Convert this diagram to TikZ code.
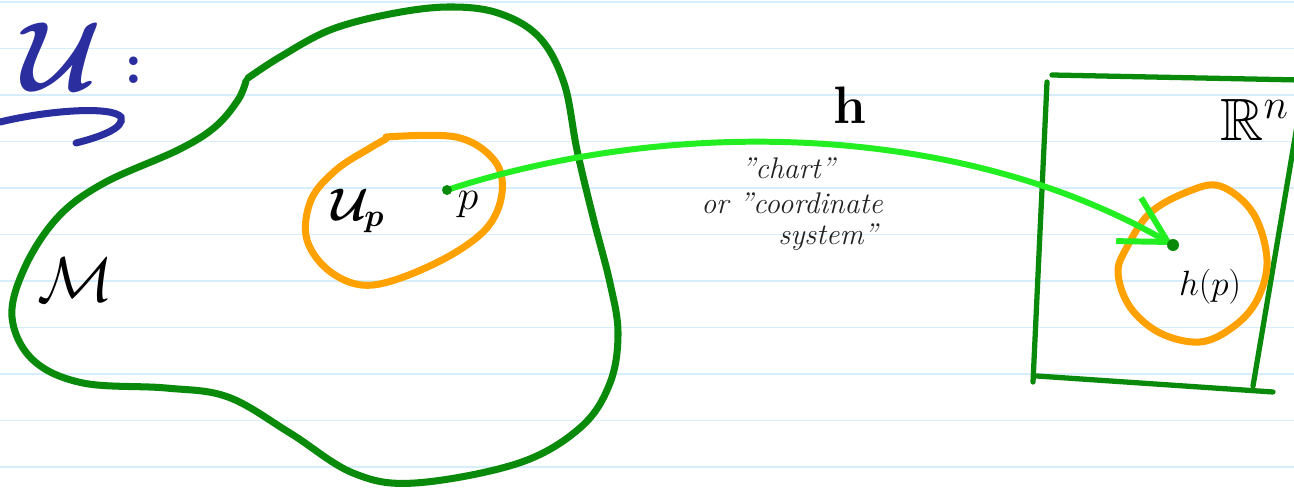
\RequirePackage{fix-cm}
\documentclass[tikz,border=0pt]{standalone}
\usepackage{amsmath, amssymb}
\usetikzlibrary{arrows.meta, positioning}
\definecolor{paperline}{HTML}{D6EEFC}
\definecolor{mfdgreen}{HTML}{0A8A0A}
\definecolor{chartgreen}{HTML}{22EE22}
\definecolor{nbhdorange}{HTML}{FFA200}
\definecolor{inkblue}{HTML}{2A2E9E}
\definecolor{inkgray}{HTML}{222222}

\begin{document}
\begin{tikzpicture}[
    x=0.02cm, y=-0.02cm,
    ruled/.style={paperline, line width=1.1pt},
    mfd/.style={mfdgreen, line width=4pt, line cap=round, line join=round},
    nbhd/.style={nbhdorange, line width=4pt, line cap=round, line join=round},
    chartarrow/.style={chartgreen, line width=3.4pt, line cap=round, -{Straight Barb[length=0.9cm, width=1cm]}},
    lab/.style={inner sep=0pt, text=black, font=\fontsize{#1}{#1}\selectfont},
    hand/.style={inner sep=0pt, text=inkgray, font=\itshape\fontsize{17}{18}\selectfont}
  ]
  \useasboundingbox (0,0) rectangle (1294,490);
  \fill[white] (0,0) rectangle (1294,490);
  \foreach \k in {0,...,10}
    \draw[ruled] (0,{2+46.5*\k}) -- (1294,{2+46.5*\k});

  % title
  \node[lab=56, text=inkblue] (U) at (62,57) {$\boldsymbol{\mathcal{U}}$};
  \node[lab=34, text=inkblue] (colon) at (134,70) {$\boldsymbol{:}$};
  \draw[inkblue, line width=4pt, line cap=round] (0,122) .. controls (50,110) and (112,106) .. (121,117) .. controls (125,128) and (100,137) .. (76,143);

  % manifold and neighbourhood
  \draw[mfd] plot[smooth, tension=0.6] coordinates {(248,78) (280,57) (330,30) (390,14) (448,7) (498,13) (539,37) (564,83) (577,150) (593,217) (610,283) (618,333) (610,383) (581,427) (519,463) (415,483) (353,473) (290,433) (228,397) (166,388) (83,383) (33,360) (12,317) (25,267) (58,217) (104,183) (178,150) (215,127) (238,100) (246,81)};
  \draw[nbhd] plot[smooth, tension=0.6] coordinates {(386,137) (456,137) (494,160) (502,193) (485,230) (436,263) (373,285) (332,273) (307,240) (311,200) (336,170) (370,148) (386,139)};

  % R^n box
  \draw[mfd, line width=3pt] (1052,75) -- (1300,80);
  \draw[mfd, line width=3pt] (1047,82) -- (1033,382);
  \draw[mfd, line width=3pt] (1037,376) -- (1273,392);
  \draw[mfd, line width=3pt] (1298,120) -- (1253,386);
  \draw[nbhd] plot[smooth cycle, tension=0.6] coordinates {(1220,186) (1253,213) (1267,260) (1257,300) (1233,327) (1200,342) (1160,333) (1130,307) (1118,273) (1127,247) (1150,213) (1187,192)};

  % the chart
  \coordinate (p) at (447,190);
  \coordinate (hp) at (1173,245);
  \draw[chartarrow] (p) .. controls (677,115) and (963,124) .. (hp);
  \fill[mfdgreen] (p) circle (5);
  \fill[mfdgreen] (hp) circle (6);

  \node[lab=36] (M) at (75,280) {$\mathcal{M}$};
  \node[lab=26] (Up) at (358,211) {$\boldsymbol{\mathcal{U}_p}$};
  \node[lab=24] (plab) at (468,205) {$p$};
  \node[lab=30, font=\bfseries\fontsize{30}{30}\selectfont] (h) at (850,105) {h};
  \node[lab=34, anchor=base west] (Rn) at (1220,140) {$\mathbb{R}^n$};
  \node[lab=20] (hplab) at (1210,287) {$h(p)$};

  \node[hand] (chart) at (788,168) {"chart"};
  \node[hand] (coord) at (792,203) {or "coordinate};
  \node[hand] (sys) at (828,237) {system"};
\end{tikzpicture}
\end{document}
